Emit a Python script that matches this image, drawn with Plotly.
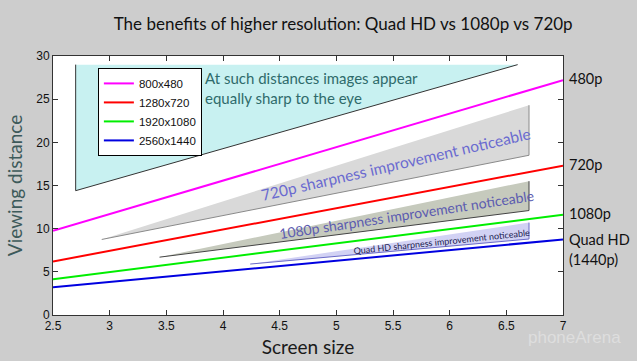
import plotly.graph_objects as go

# ---- data ----
screen_size = [2.5, 7.0]
dist_800x480 = [9.75, 27.2]
dist_1280x720 = [6.2, 17.3]
dist_1920x1080 = [4.15, 11.6]
dist_2560x1440 = [3.2, 8.75]
series_names = ["800x480", "1280x720", "1920x1080", "2560x1440"]
series_colors = ["#ff00ff", "#ff0000", "#00ee00", "#0000e0"]

same_x = [2.7, 2.7, 6.6]
same_y = [29.0, 14.4, 29.0]
gain720_x = [2.93, 6.7, 6.7]
gain720_y = [8.75, 18.5, 24.3]
gain1080_x = [3.44, 6.7, 6.7]
gain1080_y = [6.7, 12.1, 15.5]
gainqhd_x = [4.24, 6.7, 6.7]
gainqhd_y = [5.9, 8.8, 10.7]

x_ticks = [2.5, 3, 3.5, 4, 4.5, 5, 5.5, 6, 6.5, 7]
x_ticklabels = ["2.5", "3", "3.5", "4", "4.5", "5", "5.5", "6", "6.5", "7"]
y_ticks = [0, 5, 10, 15, 20, 25, 30]
y_ticklabels = ["0", "5", "10", "15", "20", "25", "30"]

right_labels = ["480p", "720p", "1080p", "Quad HD", "(1440p)"]
right_label_y = [27.35, 17.4, 11.8, 8.8, 6.4]

fig = go.Figure()

regions = [
    (same_x, same_y, "#c8f1f1", "#333333"),
    (gain720_x, gain720_y, "#d9d9d9", "#8a8a8a"),
    (gain1080_x, gain1080_y, "#c6cabd", "#444444"),
    (gainqhd_x, gainqhd_y, "#d2d2f4", "#6a6ac8"),
]
for rx, ry, fc, lc in regions:
    fig.add_trace(go.Scatter(x=rx, y=ry, fill="toself", fillcolor=fc, mode="lines",
                             line=dict(color=lc, width=1), showlegend=False, hoverinfo="skip"))

for name, ys, col in zip(series_names, [dist_800x480, dist_1280x720, dist_1920x1080, dist_2560x1440], series_colors):
    fig.add_trace(go.Scatter(x=screen_size, y=ys, mode="lines", name=name,
                             line=dict(color=col, width=2)))

ann = []
ann.append(dict(x=3.82, y=26.35, xref="x", yref="y", xanchor="left", yanchor="middle", align="left",
                text="At such distances images appear<br>equally sharp to the eye", showarrow=False,
                font=dict(family="Lato", size=15, color="#2f6b6b")))
ann.append(dict(x=5.53, y=17.45, xref="x", yref="y", text="720p sharpness improvement noticeable",
                textangle=-13, showarrow=False, font=dict(family="Lato", size=15.5, color="#6a6ad0")))
ann.append(dict(x=5.615, y=11.6, xref="x", yref="y", text="1080p sharpness improvement noticeable",
                textangle=-8.6, showarrow=False, font=dict(family="Lato", size=14, color="#5c5cb0")))
ann.append(dict(x=5.93, y=8.57, xref="x", yref="y", text="Quad HD sharpness improvement noticeable",
                textangle=-6, showarrow=False, font=dict(family="Lato", size=9, color="#202050")))
for lab, ly in zip(right_labels, right_label_y):
    ann.append(dict(x=1, xref="paper", y=ly, yref="y", xanchor="left", yanchor="middle", xshift=4,
                    text=lab, showarrow=False, font=dict(family="Lato", size=14.5, color="#111111")))
ann.append(dict(x=1.0235, xref="paper", y=-0.085, yref="paper", xanchor="center", yanchor="middle",
                text="phoneArena", showarrow=False,
                font=dict(family="Liberation Sans Narrow, Liberation Sans", size=17, color="#dedede")))

fig.update_layout(
    width=637, height=361,
    margin=dict(l=53, r=74, t=56, b=46, autoexpand=False),
    paper_bgcolor="#cdcdcd", plot_bgcolor="#ffffff",
    title=dict(text="The benefits of higher resolution: Quad HD vs 1080p vs 720p",
               x=0.569, xref="paper", xanchor="center", y=0.934, yanchor="middle",
               font=dict(family="Lato", size=17, color="#111111")),
    legend=dict(x=0.088, y=0.954, xanchor="left", yanchor="top", bgcolor="#ffffff",
                bordercolor="#000000", borderwidth=1,
                font=dict(family="Liberation Sans Narrow, Liberation Sans", size=11.5, color="#111111"),
                itemwidth=30, tracegroupgap=0),
    annotations=ann,
    showlegend=True,
)
fig.update_xaxes(range=[2.5, 7], tickvals=x_ticks, ticktext=x_ticklabels, ticks="inside", ticklen=5,
                 showline=True, linecolor="#333333", linewidth=1, mirror="ticks", showgrid=False,
                 zeroline=False, tickcolor="#333333", automargin=False,
                 tickfont=dict(family="Liberation Sans Narrow, Liberation Sans", size=12, color="#111111"),
                 title=dict(text="Screen size", font=dict(family="Lato", size=19, color="#1a1a1a"), standoff=8))
fig.update_yaxes(range=[0, 30], tickvals=y_ticks, ticktext=y_ticklabels, ticks="inside", ticklen=5,
                 showline=True, linecolor="#333333", linewidth=1, mirror="ticks", showgrid=False,
                 zeroline=False, tickcolor="#333333", automargin=False,
                 tickfont=dict(family="Liberation Sans Narrow, Liberation Sans", size=12, color="#111111"),
                 title=dict(text="Viewing distance", font=dict(family="Lato", size=19, color="#3d5a5a"), standoff=8))

fig.write_html("out.html", config={"displayModeBar": False},
               post_script="document.body.style.margin='0';document.body.style.background='#cdcdcd';")
